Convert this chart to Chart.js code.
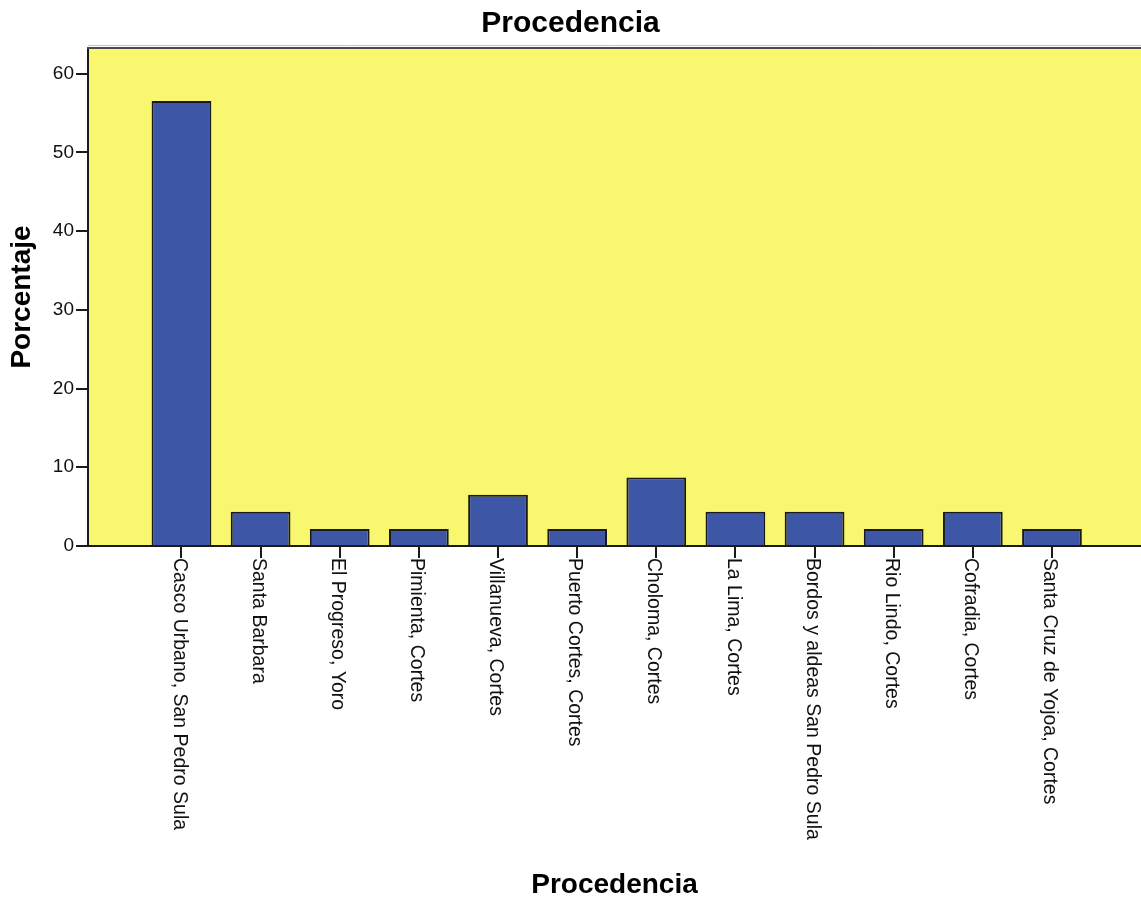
<!DOCTYPE html>
<html>
<head>
<meta charset="utf-8">
<title>Procedencia</title>
<script src="https://cdn.jsdelivr.net/npm/chart.js@4.4.1/dist/chart.umd.min.js"></script>
<style>
  html, body { margin: 0; padding: 0; background: #ffffff; }
  canvas { display: block; }
</style>
</head>
<body>
<canvas id="chart" width="1141" height="899"></canvas>
<script>
// Lugar de procedencia de los encuestados (porcentaje, n = 46)
const categories = [
  'Casco Urbano, San Pedro Sula',
  'Santa Barbara',
  'El Progreso, Yoro',
  'Pimienta, Cortes',
  'Villanueva, Cortes',
  'Puerto Cortes, Cortes',
  'Choloma, Cortes',
  'La Lima, Cortes',
  'Bordos y aldeas San Pedro Sula',
  'Rio Lindo, Cortes',
  'Cofradia, Cortes',
  'Santa Cruz de Yojoa, Cortes'
];
const percentages = [56.52, 4.35, 2.17, 2.17, 6.52, 2.17, 8.70, 4.35, 4.35, 2.17, 4.35, 2.17];
const yTicks = [0, 10, 20, 30, 40, 50, 60];

const chartTitle = 'Procedencia';
const xTitle = 'Procedencia';
const yTitle = 'Porcentaje';

const FONT = '"Liberation Sans", Arial, sans-serif';

// Yellow plot background and the grey top frame line
const plotFrame = {
  id: 'plotFrame',
  beforeDraw(chart) {
    const { ctx, chartArea: a } = chart;
    ctx.save();
    ctx.fillStyle = '#ffffff';
    ctx.fillRect(0, 0, chart.width, chart.height);
    ctx.fillStyle = '#f9f66f';
    ctx.fillRect(a.left, a.top, a.right - a.left, a.bottom - a.top);
    ctx.restore();
  },
  afterDraw(chart) {
    const { ctx, chartArea: a } = chart;
    ctx.save();
    ctx.strokeStyle = '#c4c4c4';
    ctx.lineWidth = 1;
    ctx.beginPath();
    ctx.moveTo(a.left, a.top - 2.5);
    ctx.lineTo(a.right, a.top - 2.5);
    ctx.stroke();
    ctx.strokeStyle = '#4a4a4a';
    ctx.lineWidth = 2;
    ctx.beginPath();
    ctx.moveTo(a.left - 1, a.top);
    ctx.lineTo(a.right, a.top);
    ctx.stroke();
    ctx.restore();
  }
};

// Category names under each tick, turned to read downward
const downLabels = {
  id: 'downLabels',
  afterDraw(chart) {
    const { ctx } = chart;
    const xs = chart.scales.x;
    ctx.save();
    ctx.font = '19.5px ' + FONT;
    ctx.fillStyle = '#111111';
    ctx.textAlign = 'left';
    ctx.textBaseline = 'middle';
    categories.forEach((name, i) => {
      const px = xs.getPixelForValue(i) - 2.5;
      ctx.save();
      ctx.translate(px, xs.top + 12);
      ctx.rotate(Math.PI / 2);
      ctx.fillText(name, 0, 0);
      ctx.restore();
    });
    ctx.restore();
  }
};

new Chart(document.getElementById('chart'), {
  type: 'bar',
  data: {
    datasets: [{
      data: percentages.map((v, i) => ({ x: i, y: v })),
      backgroundColor: '#3d56a6',
      borderColor: '#1a1a1a',
      borderWidth: 2,
      barPercentage: 0.755,
      categoryPercentage: 1.0
    }]
  },
  options: {
    responsive: false,
    animation: false,
    devicePixelRatio: 1,
    layout: { padding: 0 },
    plugins: {
      legend: { display: false },
      tooltip: { enabled: false },
      title: {
        display: true,
        text: chartTitle,
        color: '#000000',
        font: { family: FONT, size: 30, weight: 'bold', lineHeight: 1.0 },
        padding: { top: 8.5, bottom: 9.5 }
      }
    },
    scales: {
      x: {
        type: 'linear',
        offset: false,
        min: -1.181,
        max: 12.125,
        afterBuildTicks(scale) {
          scale.ticks = categories.map((_, i) => ({ value: i }));
        },
        afterFit(scale) { scale.height = 353; },
        ticks: { display: false },
        grid: {
          display: true,
          offset: false,
          drawOnChartArea: false,
          drawTicks: true,
          tickLength: 12,
          color: '#1a1a1a',
          lineWidth: 2
        },
        border: { display: true, color: '#1a1a1a', width: 2 },
        title: {
          display: true,
          text: xTitle,
          color: '#000000',
          font: { family: FONT, size: 28, weight: 'bold', lineHeight: 1.0 },
          padding: { top: 0, bottom: 0 }
        }
      },
      y: {
        type: 'linear',
        min: 0,
        max: 63.25,
        afterBuildTicks(scale) {
          scale.ticks = yTicks.map(v => ({ value: v }));
        },
        afterFit(scale) { scale.width = 88; },
        ticks: {
          color: '#111111',
          padding: 2,
          font: { family: FONT, size: 19 }
        },
        grid: {
          display: true,
          drawOnChartArea: false,
          drawTicks: true,
          tickLength: 12,
          color: '#1a1a1a',
          lineWidth: 2
        },
        border: { display: true, color: '#1a1a1a', width: 2 },
        title: {
          display: true,
          text: yTitle,
          color: '#000000',
          font: { family: FONT, size: 28, weight: 'bold', lineHeight: 1.0 },
          padding: { top: 8, bottom: 0 }
        }
      }
    }
  },
  plugins: [plotFrame, downLabels]
});
</script>
</body>
</html>
